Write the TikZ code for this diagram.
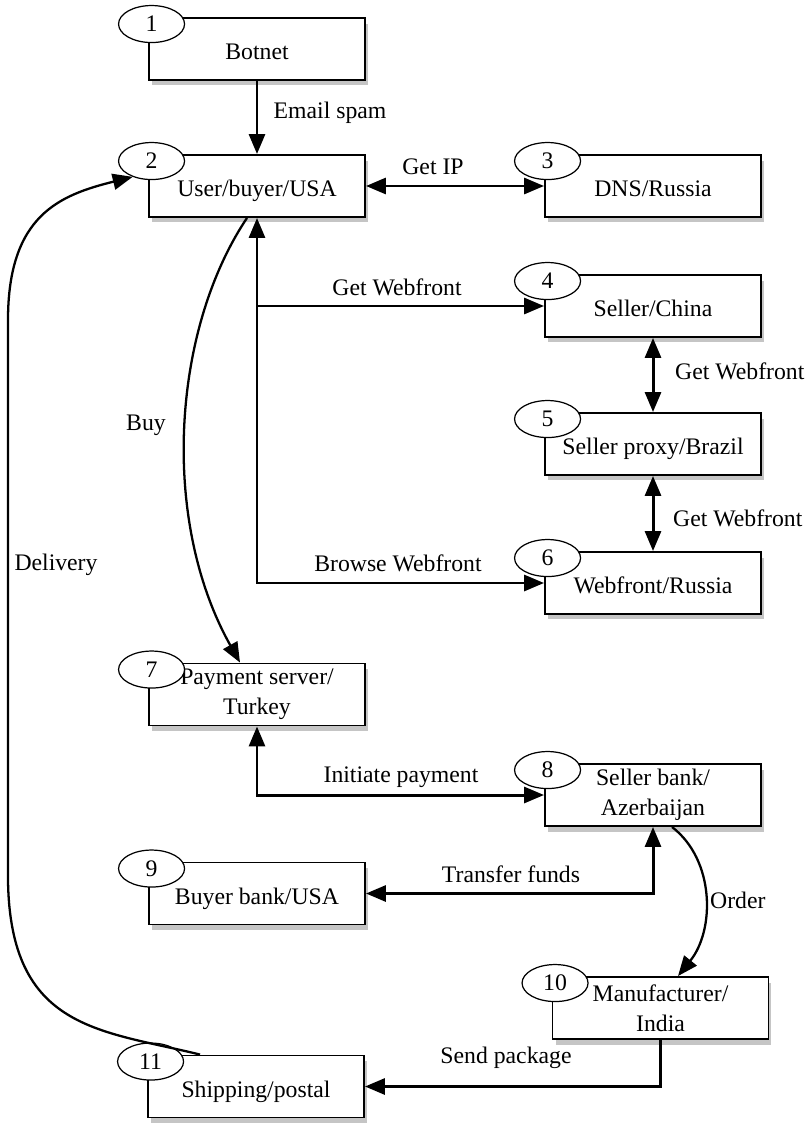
\documentclass[tikz,border=0pt]{standalone}
\usepackage{fontspec}
\setmainfont{Liberation Serif}
\usetikzlibrary{arrows.meta,shapes.geometric,shadows}

\tikzset{
  box/.style={draw, line width=1.1pt, fill=white, minimum width=4.32cm, minimum height=1.24cm, inner sep=0pt,
    drop shadow={shadow xshift=0.6mm, shadow yshift=-1.1mm, fill=black!45, opacity=0.5}},
  onebox/.style={box, text height=15.5pt, text depth=3pt},
  twobox/.style={box, align=center},
  tag/.style={draw, ellipse, line width=0.7pt, fill=white, minimum width=1.32cm, minimum height=0.74cm, inner sep=0pt},
  link/.style={line width=1.7pt, >={Triangle[length=0.4cm, width=0.32cm]}},
  curve/.style={line width=1.3pt, >={Triangle[length=0.4cm, width=0.32cm]}}
}

\begin{document}
\begin{tikzpicture}[x=0.02cm, y=-0.02cm, font=\fontsize{13.5}{17}\selectfont]
    \useasboundingbox (0,0) rectangle (807,1125);

    \node [onebox] (b1) at (257,49) {Botnet};
    \node [onebox] (b2) at (257,186) {User/buyer/USA};
    \node [onebox] (b3) at (653,186) {DNS/Russia};
    \node [onebox] (b4) at (653,306) {Seller/China};
    \node [onebox] (b5) at (653,444) {Seller proxy/Brazil};
    \node [onebox] (b6) at (653,583) {Webfront/Russia};
    \node [twobox] (b7) at (257,694.5) {Payment server/\\Turkey};
    \node [twobox] (b8) at (653,795) {Seller bank/\\Azerbaijan};
    \node [onebox] (b9) at (257,893.5) {Buyer bank/USA};
    \node [twobox] (b10) at (660.5,1008) {Manufacturer/\\India};
    \node [onebox] (b11) at (256,1086.5) {Shipping/postal};

    \node [tag] (t1) at ([shift={(3.5,7)}]b1.north west) {1};
    \node [tag] (t2) at ([shift={(3.5,7)}]b2.north west) {2};
    \node [tag] (t3) at ([shift={(3.5,7)}]b3.north west) {3};
    \node [tag] (t4) at ([shift={(3.5,7)}]b4.north west) {4};
    \node [tag] (t5) at ([shift={(3.5,7)}]b5.north west) {5};
    \node [tag] (t6) at ([shift={(3.5,7)}]b6.north west) {6};
    \node [tag] (t7) at ([shift={(3.5,7)}]b7.north west) {7};
    \node [tag] (t8) at ([shift={(3.5,7)}]b8.north west) {8};
    \node [tag] (t9) at ([shift={(3.5,7)}]b9.north west) {9};
    \node [tag] (t10) at ([shift={(3.5,7)}]b10.north west) {10};
    \node [tag] (t11) at ([shift={(3.5,7)}]b11.north west) {11};

    \draw [link,->] (b1) -- (b2);
    \draw [link,<->] (b2) -- (b3);
    \draw [link,<->] (b2.south) |- (b6.west);
    \draw [link,->] (b2.south |- b4.west) -- (b4.west);
    \draw [link,<->] (b4) -- (b5);
    \draw [link,<->] (b5) -- (b6);
    \draw [curve,->] ([shift={(-10,0)}]b2.south) .. controls (172,330) and (160,520) .. ([shift={(-17,0)}]b7.north);
    \draw [link,<->] (b7.south) |- (b8.west);
    \draw [link,<->] (b9.east) -| (b8.south);
    \draw [curve,->] ([shift={(19,0)}]b8.south) .. controls (715,860) and (715,930) .. ([shift={(17.5,0)}]b10.north);
    \draw [link,->] (b10.south) |- (b11.east);
    \draw [curve,->] ([shift={(-56,0)}]b11.north) .. controls (100,1030) and (10,1030) .. (8,880)
        -- (8,320) .. controls (8,215) and (60,195) .. (t2.220);

    \node (spam) at (330,113) {Email spam};
    \node (getip) at (433,167) {Get IP};
    \node (web1) at (397,287) {Get Webfront};
    \node (browse) at (398,563) {Browse Webfront};
    \node [right] (web2) at (669,371) {Get Webfront};
    \node [right] (web3) at (667,518) {Get Webfront};
    \node (buy) at (146,425) {Buy};
    \node (delivery) at (56,565) {Delivery};
    \node (initiate) at (401,777) {Initiate payment};
    \node (transfer) at (511,874) {Transfer funds};
    \node [right] (order) at (704,900) {Order};
    \node (send) at (506,1058) {Send package};
\end{tikzpicture}
\end{document}
